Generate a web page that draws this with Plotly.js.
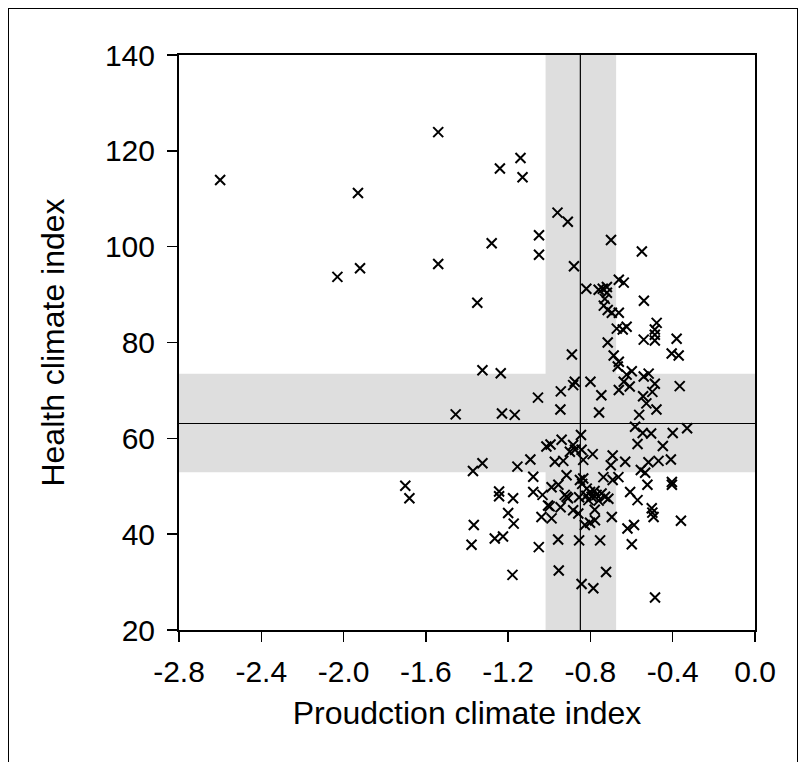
<!DOCTYPE html>
<html>
<head>
<meta charset="utf-8">
<script src="https://cdn.plot.ly/plotly-3.0.1.min.js"></script>
<style>
html,body{margin:0;padding:0;background:#fff;}
#wrap{position:relative;width:803px;height:762px;overflow:hidden;}
#chart{position:absolute;left:0;top:0;width:803px;height:762px;}
#frame{position:absolute;left:8px;top:8px;width:788px;height:800px;border-left:1.5px solid #000;border-top:1.5px solid #000;border-right:1.5px solid #000;pointer-events:none;}
</style>
</head>
<body>
<div id="wrap"><div id="chart"></div><div id="frame"></div></div>
<script>
// Production climate index (x) and Health climate index (y)
const prodIndex = [
 -2.60,-1.93,-2.03,-1.92,-1.54,-1.54,-1.14,-1.13,-1.24,-1.28,-1.05,-1.05,-0.96,-0.91,-0.88,-0.70,-0.55,-1.35,-1.70,-1.68,
 -0.82,-0.76,-0.74,-0.72,-0.72,-0.73,-0.735,-0.716,-0.696,-0.662,-0.662,-0.638,-0.54,-0.672,-0.643,-0.624,-0.478,-0.487,-0.487,-0.541,
 -0.487,-0.381,-0.716,-0.405,-0.371,-0.687,-0.662,-0.667,-0.599,-0.624,-0.638,-0.541,-0.517,-0.487,-0.80,-0.366,-0.89,-1.325,-1.236,
 -0.876,-0.884,-1.055,-0.944,-0.946,-0.747,-0.758,-0.662,-0.609,-0.544,-0.499,-0.528,-0.479,-0.563,-1.455,-1.23,-1.168,-0.583,-0.546,-0.505,-0.40,-0.33,-0.846,
 -0.940,-1.014,-0.994,-0.884,-0.875,-0.900,-0.843,-0.835,-0.789,-0.692,-0.701,-0.631,-0.973,-0.932,-1.092,-0.571,-0.448,-0.518,-0.469,-0.409,-0.555,-0.534,
 -1.325,-1.371,-1.155,-1.078,-0.916,-0.851,-0.835,-0.737,-0.692,-0.664,
 -0.523,-0.404,-0.404,-1.078,-1.033,-0.989,-0.956,-0.916,-0.855,-0.818,-0.802,-0.794,-0.810,-0.770,-0.746,-0.729,-0.713,-0.607,-0.571,
 -0.502,-0.499,-0.493,-0.360,-1.006,-0.998,-1.038,-0.989,-0.945,-0.884,-0.859,-0.827,-0.802,-0.778,-0.779,-0.696,-0.620,-0.588,-0.599,
 -1.051,-0.957,-0.855,-0.753,-0.954,-0.724,-0.843,-0.786,-0.486,-1.244,-1.244,-1.176,-1.20,-1.173,-1.367,-1.378,-1.265,-1.225,-1.179,
 -0.925,-0.909,-0.78,-0.76,-0.82,-0.84
];
const healthIndex = [
 113.9,111.2,93.7,95.5,123.9,96.4,118.5,114.5,116.3,100.7,102.4,98.3,107.1,105.2,95.9,101.4,99.0,88.3,50.1,47.5,
 91.2,91.0,91.2,91.6,90.4,89.1,87.7,86.8,86.2,86.2,93.1,92.5,88.7,82.9,82.7,83.3,84.1,82.7,81.6,80.6,
 80.4,80.8,80.0,77.7,77.3,77.3,76.0,75.0,74.0,73.3,71.8,72.9,73.5,71.4,71.8,70.9,77.5,74.2,73.6,
 71.8,71.1,68.5,69.8,66.0,69.0,65.4,70.1,70.8,68.8,69.7,67.3,66.0,64.9,65.0,65.2,64.9,62.4,61.1,61.0,61.1,62.1,60.7,
 59.7,58.3,58.7,58.6,57.6,57.2,57.6,55.5,56.7,56.4,54.4,55.1,55.1,55.3,55.6,58.8,58.4,55.0,55.3,55.6,53.4,52.8,
 54.8,53.2,54.1,52.0,52.3,51.3,51.6,51.9,51.3,51.9,
 50.3,50.9,50.3,48.8,48.2,49.8,50.3,47.8,47.7,49.5,48.8,47.8,47.1,48.2,48.5,47.8,47.4,48.8,47.1,
 45.4,44.5,43.6,42.8,46.0,45.8,43.6,43.3,45.6,45.0,44.3,41.9,42.4,42.9,45.1,43.6,41.2,41.9,37.9,
 37.3,38.9,38.7,38.7,32.4,32.1,29.6,28.7,26.8,48.9,47.9,47.5,44.4,42.2,41.9,37.8,39.1,39.5,31.5,
 48.2,47.5,49.0,47.0,48.0,50.5
];
// Means and +/- bands
const prodMean = -0.849;
const prodBand = [-1.018, -0.675];
const healthMean = 63.1;
const healthBand = [52.9, 73.5];
const xTicks = [-2.8,-2.4,-2.0,-1.6,-1.2,-0.8,-0.4,0.0];
const xTickText = ["-2.8","-2.4","-2.0","-1.6","-1.2","-0.8","-0.4","0.0"];
const yTicks = [20,40,60,80,100,120,140];

const band = '#dedede';
const trace = {
  x: prodIndex, y: healthIndex, type: 'scatter', mode: 'markers',
  marker: {symbol: 'x-thin-open', size: 10, color: '#000', line: {width: 2, color: '#000'}},
  hoverinfo: 'skip', showlegend: false
};
const layout = {
  width: 803, height: 762,
  margin: {l: 179, r: 48, t: 55, b: 132},
  paper_bgcolor: '#fff', plot_bgcolor: '#fff',
  font: {family: 'Liberation Sans, Arial, sans-serif', color: '#000'},
  xaxis: {
    range: [-2.8, 0], tickvals: xTicks, ticktext: xTickText,
    showgrid: false, zeroline: false, showline: true, mirror: true, linewidth: 2, linecolor: '#000',
    ticks: 'outside', ticklen: 10, tickwidth: 1.5, tickcolor: '#000', ticklabelstandoff: 4,
    tickfont: {size: 30}, title: {text: 'Proudction climate index', font: {size: 32}, standoff: 15}
  },
  yaxis: {
    range: [20, 140], tickvals: yTicks,
    showgrid: false, zeroline: false, showline: true, mirror: true, linewidth: 2, linecolor: '#000',
    ticks: 'outside', ticklen: 10, tickwidth: 1.5, tickcolor: '#000', ticklabelstandoff: 6,
    tickfont: {size: 30}, title: {text: 'Health climate index', font: {size: 32}, standoff: 31}
  },
  shapes: [
    {type: 'rect', xref: 'paper', yref: 'y', x0: 0, x1: 1, y0: healthBand[0], y1: healthBand[1], fillcolor: band, line: {width: 0}, layer: 'below'},
    {type: 'rect', xref: 'x', yref: 'paper', x0: prodBand[0], x1: prodBand[1], y0: 0, y1: 1, fillcolor: band, line: {width: 0}, layer: 'below'},
    {type: 'line', xref: 'paper', yref: 'y', x0: 0, x1: 1, y0: healthMean, y1: healthMean, line: {width: 1.2, color: '#000'}, layer: 'below'},
    {type: 'line', xref: 'x', yref: 'paper', x0: prodMean, x1: prodMean, y0: 0, y1: 1, line: {width: 1.2, color: '#000'}, layer: 'below'}
  ]
};
Plotly.newPlot('chart', [trace], layout, {displayModeBar: false, staticPlot: true});
</script>
</body>
</html>
